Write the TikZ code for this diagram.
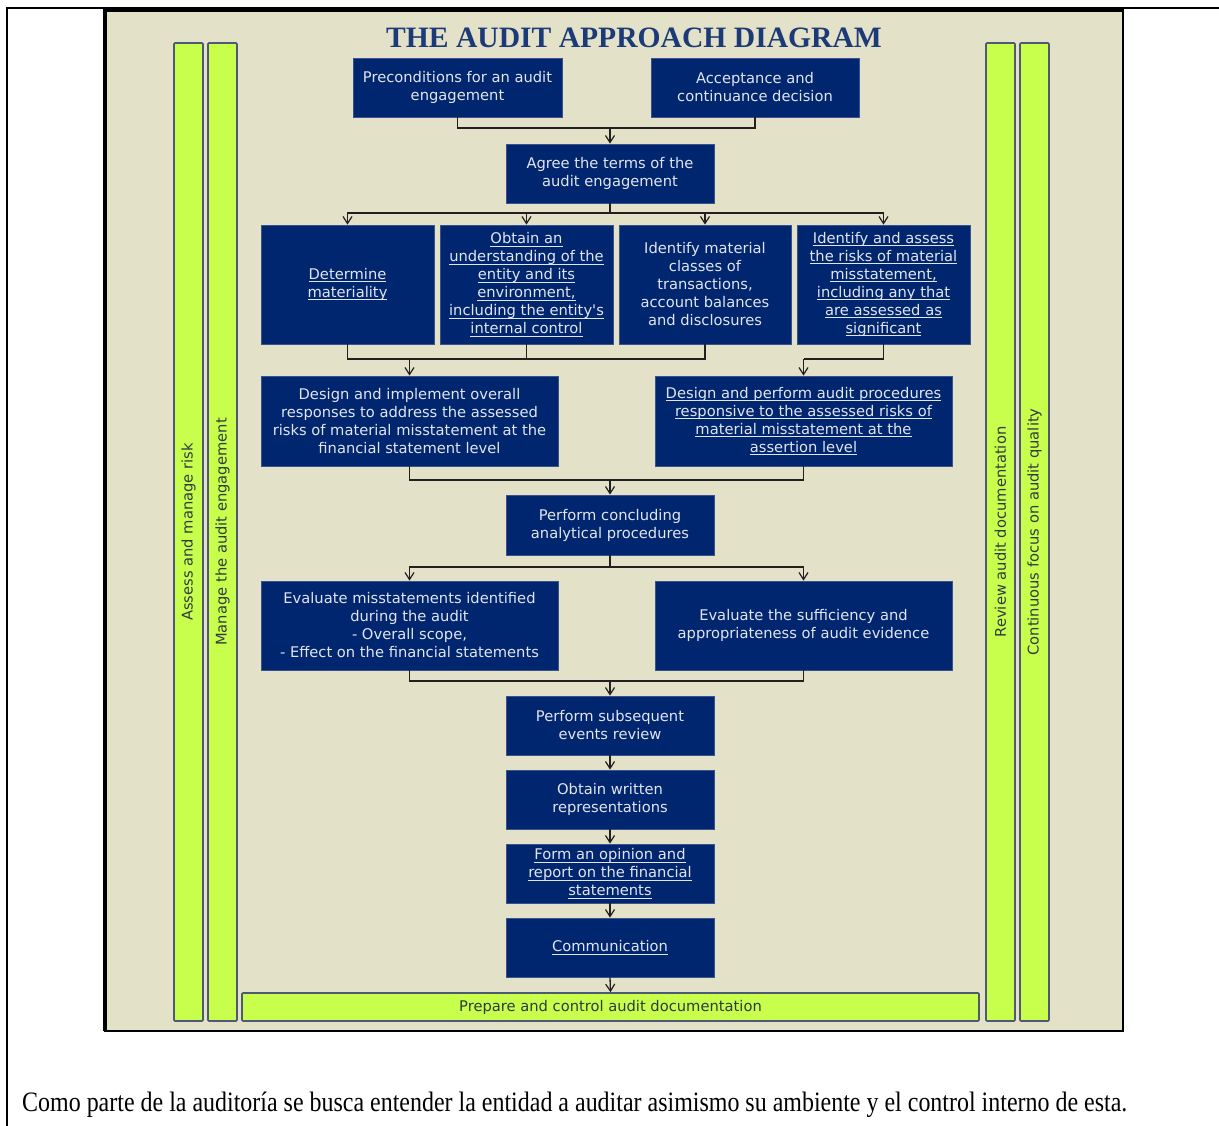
\documentclass[tikz,border=0pt]{standalone}
\usepackage{fontspec}
\usepackage{graphicx}
\setmainfont{Liberation Serif}
\newfontfamily\boxfont{DejaVu Sans}
\usetikzlibrary{arrows.meta}

\definecolor{navy}{HTML}{00266F}
\definecolor{navyedge}{HTML}{3A5290}
\definecolor{boxtext}{HTML}{E2E4EE}
\definecolor{lime}{HTML}{C8FF4C}
\definecolor{limeedge}{HTML}{4F5875}
\definecolor{bg}{HTML}{E3E2C9}
\definecolor{titleblue}{HTML}{1C3A78}
\definecolor{wirecol}{HTML}{202020}
\definecolor{bartext}{HTML}{2E3A40}

% underlined (hyperlink-like) line of text
\newcommand\lnk[1]{\leavevmode\setbox0\hbox{#1}\rlap{\rule[-2.8pt]{\wd0}{0.9pt}}\box0}

\tikzset{
  stage/.style={draw=navyedge, line width=0.8pt, fill=navy, text=boxtext,
    font=\boxfont\fontsize{14.7}{18}\selectfont, align=center, inner sep=0pt},
  band/.style={draw=limeedge, line width=1.6pt, fill=lime, text=bartext,
    font=\boxfont\fontsize{14.7}{18}\selectfont, inner sep=0pt, rounded corners=1pt},
  wire/.style={draw=wirecol, line width=1.3pt},
  flow/.style={wire, -{Straight Barb[length=7pt,width=9pt,line width=1.2pt]}},
}

\begin{document}
\begin{tikzpicture}[x=1pt,y=-1pt]
\useasboundingbox (0,0) rectangle (1219,1126);
\fill[white] (0,0) rectangle (1219,1126);

% page frame lines
\draw[line width=2.5pt] (7,1126) -- (7,8) -- (1219,8);

% picture panel
\fill[bg] (105,10) rectangle (1123,1031);
\draw[line width=1.6pt] (105,10) rectangle (1123,1031);
\draw[line width=4pt] (105,1031) -- (105,10) -- (1123,10);

% title
\node[font=\bfseries\fontsize{29.6}{32}\selectfont, text=titleblue, anchor=base, inner sep=0pt]
  (title) at (634,48) {THE AUDIT APPROACH DIAGRAM};

% side bands
\node[band, rotate=90, minimum width=978pt, minimum height=29pt] (risk) at (188.5,532) {Assess and manage risk};
\node[band, rotate=90, minimum width=978pt, minimum height=29pt] (manage) at (222.5,532) {Manage the audit engagement};
\node[band, rotate=90, minimum width=978pt, minimum height=29pt] (review) at (1000.5,532) {Review audit documentation};
\node[band, rotate=90, minimum width=978pt, minimum height=29pt] (quality) at (1034.5,532) {Continuous focus on audit quality};
\node[band, minimum width=737pt, minimum height=28pt] (prep) at (610.5,1007) {Prepare and control audit documentation};

% stages
\node[stage, minimum width=209pt, minimum height=59pt] (pre) at (457.5,87.5)
  {Preconditions for an audit\\engagement};
\node[stage, minimum width=208pt, minimum height=59pt] (acc) at (755,87.5)
  {Acceptance and\\continuance decision};
\node[stage, minimum width=208pt, minimum height=59pt] (agree) at (610,173.5)
  {Agree the terms of the\\audit engagement};

\node[stage, minimum width=173pt, minimum height=119pt] (det) at (347.5,284.5)
  {\lnk{Determine}\\\lnk{materiality}};
\node[stage, minimum width=173pt, minimum height=119pt] (obt) at (526.5,284.5)
  {\lnk{Obtain an}\\\lnk{understanding of the}\\\lnk{entity and its}\\\lnk{environment,}\\\lnk{including the entity's}\\\lnk{internal control}};
\node[stage, minimum width=172pt, minimum height=119pt] (idm) at (705,284.5)
  {Identify material\\classes of\\transactions,\\account balances\\and disclosures};
\node[stage, minimum width=173pt, minimum height=119pt] (ida) at (883.5,284.5)
  {\lnk{Identify and assess}\\\lnk{the risks of material}\\\lnk{misstatement,}\\\lnk{including any that}\\\lnk{are assessed as}\\\lnk{significant}};

\node[stage, minimum width=297pt, minimum height=90pt] (dio) at (409.5,421)
  {Design and implement overall\\responses to address the assessed\\risks of material misstatement at the\\financial statement level};
\node[stage, minimum width=297pt, minimum height=90pt] (dpa) at (803.5,421)
  {\lnk{Design and perform audit procedures}\\\lnk{responsive to the assessed risks of}\\\lnk{material misstatement at the}\\\lnk{assertion level}};

\node[stage, minimum width=208pt, minimum height=60pt] (pca) at (610,525)
  {Perform concluding\\analytical procedures};

\node[stage, minimum width=297pt, minimum height=89pt] (emi) at (409.5,625.5)
  {Evaluate misstatements identified\\during the audit\\- Overall scope,\\- Effect on the financial statements};
\node[stage, minimum width=297pt, minimum height=89pt] (esa) at (803.5,625.5)
  {Evaluate the sufficiency and\\appropriateness of audit evidence};

\node[stage, minimum width=208pt, minimum height=59pt] (psr) at (610,725.5)
  {Perform subsequent\\events review};
\node[stage, minimum width=208pt, minimum height=59pt] (owr) at (610,799.5)
  {Obtain written\\representations};
\node[stage, minimum width=208pt, minimum height=59pt] (fop) at (610,873.5)
  {\lnk{Form an opinion and}\\\lnk{report on the financial}\\\lnk{statements}};
\node[stage, minimum width=208pt, minimum height=59pt] (com) at (610,947.5)
  {\lnk{Communication}};

% junction points
\coordinate (j1) at (610,128);
\coordinate (j2) at (610,213);
\coordinate (j3) at (409.5,359);
\coordinate (j4) at (803.5,359);
\coordinate (j5) at (610,480);
\coordinate (j6) at (610,567);
\coordinate (j7) at (610,681);

% connectors
\draw[wire] (pre.south) |- (j1) -| (acc.south);
\draw[flow] (j1) -- (agree.north);

\draw[wire] (agree.south) -- (j2);
\draw[flow] (j2) -| (det.north);
\draw[flow] (j2) -| (obt.north);
\draw[flow] (j2) -| (idm.north);
\draw[flow] (j2) -| (ida.north);

\draw[wire] (det.south) |- (j3);
\draw[wire] (obt.south) |- (j3);
\draw[wire] (idm.south) |- (j3);
\draw[flow] (j3) -- (dio.north);
\draw[wire] (ida.south) |- (j4);
\draw[flow] (j4) -- (dpa.north);

\draw[wire] (dio.south) |- (j5);
\draw[wire] (dpa.south) |- (j5);
\draw[flow] (j5) -- (pca.north);

\draw[wire] (pca.south) -- (j6);
\draw[flow] (j6) -| (emi.north);
\draw[flow] (j6) -| (esa.north);

\draw[wire] (emi.south) |- (j7);
\draw[wire] (esa.south) |- (j7);
\draw[flow] (j7) -- (psr.north);

\draw[flow] (psr.south) -- (owr.north);
\draw[flow] (owr.south) -- (fop.north);
\draw[flow] (fop.south) -- (com.north);
\draw[flow] (com.south) -- (prep.north);

% caption below the panel
\node[anchor=base west, inner sep=0pt] (caption) at (22,1111)
  {\resizebox{1105pt}{1.08\height}{\fontsize{26}{30}\selectfont Como parte de la auditoría se busca entender la entidad a auditar asimismo su ambiente y el control interno de esta.}};
\end{tikzpicture}
\end{document}
